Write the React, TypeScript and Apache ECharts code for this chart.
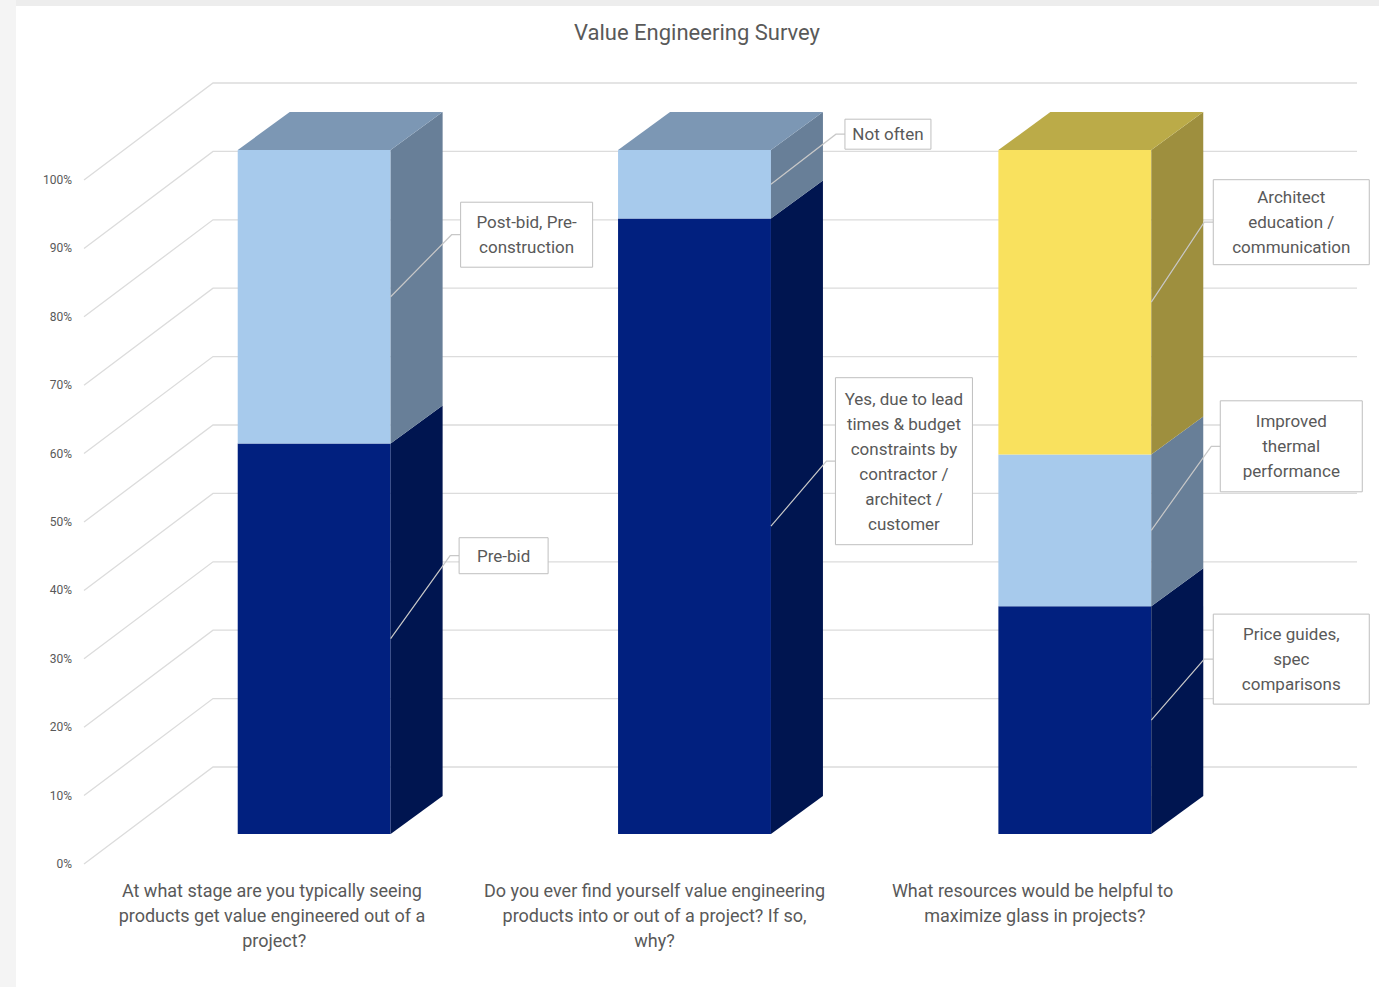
import React, { useEffect, useRef } from "react";
import * as echarts from "echarts";

// ---------- data ----------
const chartTitle = "Value Engineering Survey";
const categories = [
  "At what stage are you typically seeing products get value engineered out of a project?",
  "Do you ever find yourself value engineering products into or out of a project? If so, why?",
  "What resources would be helpful to maximize glass in projects?",
];
const yTicks = [0, 10, 20, 30, 40, 50, 60, 70, 80, 90, 100];

// stacked segments, bottom to top (percent of answers)
const level1Values = [57.1, 90, 33.3];
const level1Labels = [
  "Pre-bid",
  "Yes, due to lead\ntimes & budget\nconstraints by\ncontractor /\narchitect /\ncustomer",
  "Price guides,\nspec\ncomparisons",
];
const level2Values = [42.9, 10, 22.2];
const level2Labels = ["Post-bid, Pre-\nconstruction", "Not often", "Improved\nthermal\nperformance"];
const level3Values = [0, 0, 44.5];
const level3Labels = ["", "", "Architect\neducation /\ncommunication"];

// ---------- styling / layout ----------
const FONT = "Roboto, 'Noto Sans', sans-serif";
const TEXT = "#595959";
const GRIDLINE = "#DCDCDC";
const BAR_RATIO = 0.402;
const BAR_DEPTH: [number, number] = [52, -38];
const FRONT_OFFSET: [number, number] = [-40, 30];
const WALL_DEPTH: [number, number] = [129, -97];

const levelColors = [
  { front: "#01207F", side: "#001550", top: "#0A2468" },
  { front: "#A7CAEC", side: "#687F98", top: "#7C97B4" },
  { front: "#F9E15E", side: "#9E8F3E", top: "#BBAB48" },
];
// label box: [dx, dy of box centre from anchor, box width, box height]
const labelBoxes = [
  [
    [113, -83, 89, 36],
    [133, -65, 137, 167],
    [140, -61, 156, 90],
  ],
  [
    [136, -62, 132, 65],
    [117, -50, 86, 30],
    [140, -84, 142, 91],
  ],
  [
    [0, 0, 0, 0],
    [0, 0, 0, 0],
    [140, -80, 156, 85],
  ],
];

const levelValues = [level1Values, level2Values, level3Values];
const levelLabels = [level1Labels, level2Labels, level3Labels];

function buildLevelData(level: number) {
  return categories.map((_, c) => {
    let start = 0;
    for (let l = 0; l < level; l++) start += levelValues[l][c];
    const end = start + levelValues[level][c];
    let isTop = 1;
    for (let l = level + 1; l < levelValues.length; l++) if (levelValues[l][c] > 0) isTop = 0;
    return [c, start, end, level, isTop];
  });
}

function renderBar(params: any, api: any) {
  const cat = api.value(0);
  const start = api.value(1);
  const end = api.value(2);
  const level = api.value(3);
  const isTop = api.value(4);
  if (end - start <= 0) return null;
  const p0 = api.coord([cat, start]);
  const p1 = api.coord([cat, end]);
  const bw = api.size([1, 0])[0] * BAR_RATIO;
  const x0 = p0[0] - bw / 2;
  const x1 = p0[0] + bw / 2;
  const yb = p0[1];
  const yt = p1[1];
  const [dx, dy] = BAR_DEPTH;
  const col = levelColors[level];
  const children: any[] = [
    {
      type: "polygon",
      shape: { points: [[x0, yb], [x1, yb], [x1, yt], [x0, yt]] },
      style: { fill: col.front },
    },
    {
      type: "polygon",
      shape: { points: [[x1, yb], [x1 + dx, yb + dy], [x1 + dx, yt + dy], [x1, yt]] },
      style: { fill: col.side },
    },
  ];
  if (isTop) {
    children.push({
      type: "polygon",
      shape: { points: [[x0, yt], [x1, yt], [x1 + dx, yt + dy], [x0 + dx, yt + dy]] },
      style: { fill: col.top },
    });
  }
  const text = levelLabels[level][cat];
  if (text) {
    const [ox, oy, w, h] = labelBoxes[level][cat];
    const ay = (yb + yt) / 2;
    const cx = x1 + ox;
    const cy = ay + oy;
    const left = cx - w / 2;
    children.push({
      type: "polyline",
      shape: { points: [[x1, ay], [left - 9, cy], [left, cy]] },
      style: { stroke: "#C8C8C8", lineWidth: 1.2, fill: "none" },
      z2: 10,
    });
    children.push({
      type: "rect",
      shape: { x: left, y: cy - h / 2, width: w, height: h },
      style: { fill: "#FFFFFF", stroke: "#BFBFBF", lineWidth: 1 },
      z2: 11,
    });
    children.push({
      type: "text",
      style: {
        text,
        x: cx,
        y: cy,
        align: "center",
        verticalAlign: "middle",
        fill: TEXT,
        fontFamily: FONT,
        fontSize: 17,
        lineHeight: 25,
      },
      z2: 12,
    });
  }
  return { type: "group", children };
}

function renderGridLine(params: any, api: any) {
  const v = api.value(1);
  const cs = params.coordSys;
  const y = api.coord([0, v])[1];
  const fx = cs.x + FRONT_OFFSET[0];
  const fy = y + FRONT_OFFSET[1];
  const bx = fx + WALL_DEPTH[0];
  const by = fy + WALL_DEPTH[1];
  const rightEnd = cs.x + cs.width + 92;
  return {
    type: "polyline",
    shape: { points: [[fx, fy], [bx, by], [rightEnd, by]] },
    style: { stroke: GRIDLINE, lineWidth: 1.3, fill: "none" },
  };
}

export default function App() {
  const ref = useRef<HTMLDivElement>(null);
  useEffect(() => {
    if (!ref.current) return;
    const chart = echarts.init(ref.current, undefined, { renderer: "svg" });
    const seriesNames = ["Level 1", "Level 2", "Level 3"];
    chart.setOption({
      animation: false,
      backgroundColor: "#FFFFFF",
      title: {
        text: chartTitle,
        left: 692,
        top: 16,
        textAlign: "center",
        textStyle: { color: TEXT, fontFamily: FONT, fontSize: 22, fontWeight: "normal" },
      },
      graphic: [
        { type: "rect", shape: { x: 0, y: 0, width: 1379, height: 6 }, style: { fill: "#EDEDED" }, z: -1 },
        { type: "rect", shape: { x: 0, y: 0, width: 16, height: 987 }, style: { fill: "#F4F4F4" }, z: -1 },
      ],
      grid: [
        { left: 84, top: 180, width: 1141, height: 684 },
        { left: 124, top: 150, width: 1141, height: 684 },
      ],
      xAxis: [
        {
          gridIndex: 0,
          type: "category",
          data: categories,
          axisLine: { show: false },
          axisTick: { show: false },
          axisLabel: {
            interval: 0,
            width: 344,
            overflow: "break",
            lineHeight: 25,
            margin: 14,
            color: TEXT,
            fontFamily: FONT,
            fontSize: 18,
          },
        },
        { gridIndex: 1, type: "category", data: categories, show: false },
      ],
      yAxis: [
        {
          gridIndex: 0,
          type: "value",
          min: 0,
          max: 100,
          interval: 10,
          axisLine: { show: false },
          axisTick: { show: false },
          splitLine: { show: false },
          axisLabel: { formatter: "{value}%", color: TEXT, fontFamily: FONT, fontSize: 12, margin: 12 },
        },
        { gridIndex: 1, type: "value", min: 0, max: 100, show: false },
      ],
      series: [
        {
          type: "custom",
          name: "gridlines",
          xAxisIndex: 1,
          yAxisIndex: 1,
          silent: true,
          z: 1,
          renderItem: renderGridLine,
          encode: { x: 0, y: 1 },
          data: yTicks.map((v) => [0, v]),
        },
        ...seriesNames.map((name, level) => ({
          type: "custom",
          name,
          xAxisIndex: 1,
          yAxisIndex: 1,
          z: 2 + level,
          renderItem: renderBar,
          encode: { x: 0, y: [1, 2] },
          data: buildLevelData(level),
        })),
      ],
    });
    return () => chart.dispose();
  }, []);
  return (
    <div style={{ position: "fixed", left: 0, top: 0, width: 1379, height: 987 }}>
      <div ref={ref} style={{ width: 1379, height: 987 }} />
    </div>
  );
}
